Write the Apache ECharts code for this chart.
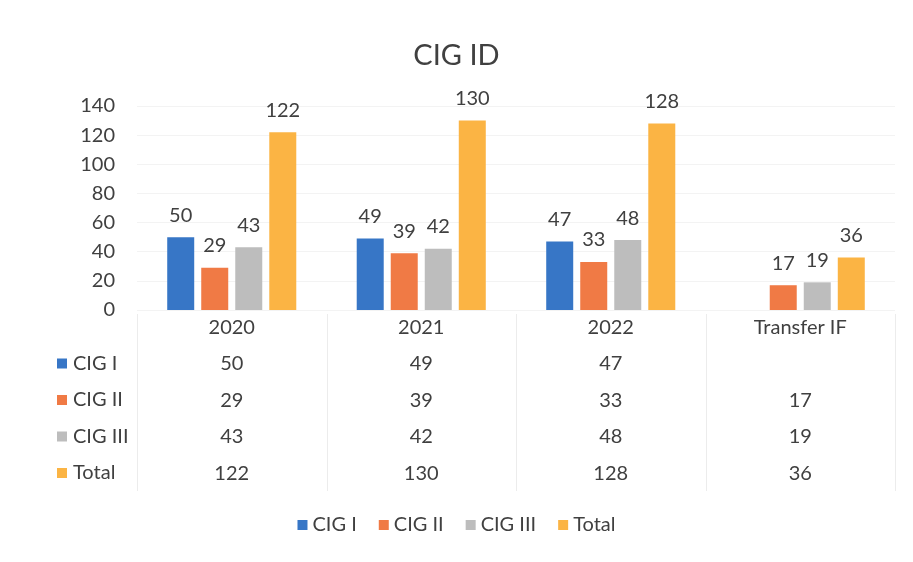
<!DOCTYPE html>
<html>
<head>
<meta charset="utf-8">
<script src="https://cdn.jsdelivr.net/npm/echarts@6/dist/echarts.min.js"></script>
<style>
  html, body { margin: 0; padding: 0; background: #fff; }
  #chart { width: 913px; height: 562px; }
</style>
</head>
<body>
<div id="chart"></div>
<script>
const categories = ['2020', '2021', '2022', 'Transfer IF'];
const seriesNames = ['CIG I', 'CIG II', 'CIG III', 'Total'];
const cig1 = [50, 49, 47, null];
const cig2 = [29, 39, 33, 17];
const cig3 = [43, 42, 48, 19];
const total = [122, 130, 128, 36];
const allValues = [cig1, cig2, cig3, total];
const colors = ['#3776c6', '#f07a45', '#bdbdbd', '#fbb444'];

const font = 'Lato, "Open Sans", sans-serif';
const textColor = '#404040';
const fs = 20;
const rowH = 36.5;
const gridLeft = 137, gridRight = 18, gridTop = 106, gridBottom = 252;
const axisY = 562 - gridBottom;

const chart = echarts.init(document.getElementById('chart'));

// row headers of the data table (legend key + series name)
const rowHeaders = [];
seriesNames.forEach((name, i) => {
  const cy = axisY + 17 + rowH * (i + 1);
  rowHeaders.push({
    type: 'rect', shape: { x: 57, y: cy - 5, width: 10, height: 10 },
    style: { fill: colors[i] }, silent: true
  });
  rowHeaders.push({
    type: 'text', x: 73, y: cy,
    style: { text: name, font: fs + 'px ' + font, fill: textColor, verticalAlign: 'middle' },
    silent: true
  });
});

// faint table borders
const tableLines = [];
const catW = (913 - gridLeft - gridRight) / categories.length;
for (let i = 0; i <= categories.length; i++) {
  const x = Math.round(gridLeft + catW * i) + 0.5;
  tableLines.push({
    type: 'line', shape: { x1: x, y1: axisY + 4, x2: x, y2: axisY + 181 },
    style: { stroke: '#ececec', lineWidth: 1 }, silent: true
  });
}

const option = {
  animation: false,
  backgroundColor: '#fff',
  title: {
    text: 'CIG ID', left: 'center', top: 36,
    textStyle: { fontFamily: font, fontSize: 29, fontWeight: 'normal', color: textColor }
  },
  legend: {
    bottom: 22, left: 'center',
    itemWidth: 10, itemHeight: 10, itemGap: 22,
    icon: 'rect',
    textStyle: { fontFamily: font, fontSize: fs, color: textColor },
    data: seriesNames
  },
  grid: { left: gridLeft, right: gridRight, top: gridTop, bottom: gridBottom },
  xAxis: {
    type: 'category',
    data: categories,
    axisLine: { show: false },
    axisTick: { show: false },
    axisLabel: {
      margin: -1,
      interval: 0,
      fontFamily: font, fontSize: fs, color: textColor,
      lineHeight: rowH,
      formatter: (val, idx) => [val].concat(allValues.map(arr => arr[idx] == null ? ' ' : String(arr[idx]))).join('\n')
    }
  },
  yAxis: {
    type: 'value', min: 0, max: 140, interval: 20,
    axisLabel: { fontFamily: font, fontSize: fs, color: textColor, margin: 22 },
    splitLine: { lineStyle: { color: '#f3f3f3' } }
  },
  graphic: tableLines.concat(rowHeaders),
  series: seriesNames.map((name, i) => ({
    name: name,
    type: 'bar',
    data: allValues[i],
    barWidth: 27,
    barGap: '26%',
    itemStyle: { color: colors[i] },
    label: {
      show: true, position: 'top', distance: 12,
      fontFamily: font, fontSize: fs, color: textColor
    }
  }))
};

chart.setOption(option);
</script>
</body>
</html>
